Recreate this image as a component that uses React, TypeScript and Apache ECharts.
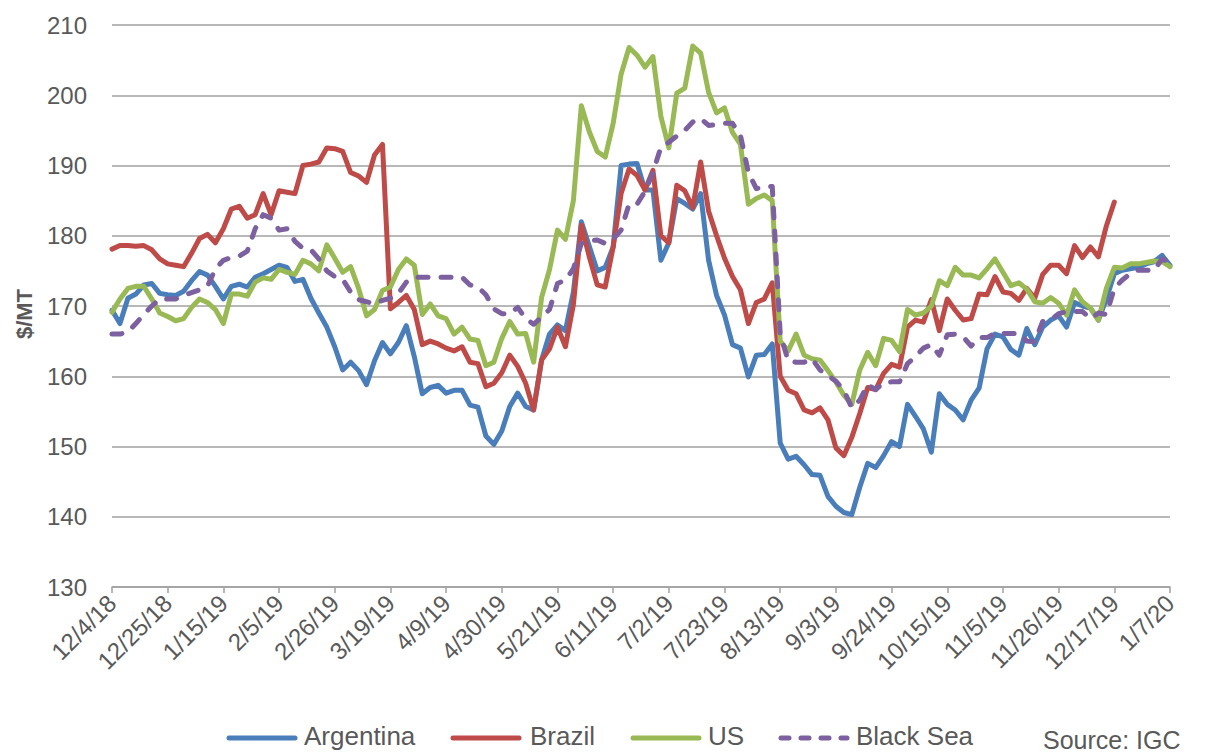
import React, { useEffect, useRef } from "react";
import * as echarts from "echarts";

// Sampling grid: every 3 days starting 12/4/18 (day 0) to 1/7/20 (day 399)
const STEP_DAYS = 3;
const DAYS: number[] = Array.from({ length: 134 }, (_, i) => i * STEP_DAYS);

const TICK_LABELS = [
  "12/4/18", "12/25/18", "1/15/19", "2/5/19", "2/26/19", "3/19/19", "4/9/19",
  "4/30/19", "5/21/19", "6/11/19", "7/2/19", "7/23/19", "8/13/19", "9/3/19",
  "9/24/19", "10/15/19", "11/5/19", "11/26/19", "12/17/19", "1/7/20",
];

const SERIES_NAMES = ["Argentina", "Brazil", "US", "Black Sea"];

const ARGENTINA = [
  169.4, 167.5, 171.1, 171.7, 173, 173.2, 171.8, 171.6, 171.5, 172.1, 173.6, 174.9, 174.4, 172.8, 171, 172.8, 173.1, 172.7, 174.1, 174.6, 175.2, 175.8,
  175.5, 173.5, 173.8, 171.1, 169, 167, 164.2, 160.9, 162, 160.8, 158.8, 162.2, 164.8, 163.2, 164.8, 167.2, 162.8, 157.5, 158.4, 158.7, 157.6, 158,
  158, 155.9, 155.6, 151.5, 150.3, 152.2, 155.7, 157.6, 155.7, 155.2, 162.3, 166, 167.3, 166.5, 172, 182, 178.5, 175, 175.5, 178.4, 190, 190.2,
  190.3, 186.5, 186.5, 176.5, 179, 185.3, 184.6, 183.8, 186, 176.5, 171.5, 168.7, 164.5, 164, 159.9, 163, 163.1, 164.6, 150.5, 148.2, 148.6, 147.4,
  146, 145.9, 142.9, 141.5, 140.6, 140.3, 144.2, 147.6, 147, 148.7, 150.7, 150, 156, 154.3, 152.5, 149.2, 157.5, 156, 155.2, 153.8, 156.6, 158.3,
  163.9, 166, 165.6, 163.8, 163, 166.8, 164.5, 167, 168, 168.6, 167, 170.5, 170, 169.7, 168, 171, 174.6, 175.1, 175.3, 175.5, 176, 176.3, 177.2, 175.8,
];

const BRAZIL = [
  178.1, 178.6, 178.6, 178.5, 178.6, 178, 176.7, 176, 175.8, 175.6, 177.5, 179.6, 180.2, 179, 181, 183.8, 184.2, 182.5, 183, 186, 183, 186.4,
  186.2, 186, 190, 190.2, 190.5, 192.5, 192.4, 192, 189, 188.5, 187.6, 191.5, 193, 169.6, 170.5, 171.5, 169.5, 164.5, 165, 164.6, 164, 163.6,
  164.2, 162, 161.8, 158.5, 159, 160.5, 163, 161.4, 159, 155.2, 162.3, 163.9, 167, 164.2, 170.2, 181.5, 177, 173, 172.7, 178.4, 186, 189.5,
  188.6, 186.5, 189.3, 180, 179, 187.2, 186.4, 184, 190.5, 183.5, 180, 176.8, 174.2, 172.3, 167.5, 170.5, 171, 173.3, 160, 158, 157.5, 155.2,
  154.8, 155.5, 153.8, 149.8, 148.7, 151.3, 154.7, 158.4, 158.1, 160.4, 161.7, 161.3, 167, 168, 167.7, 170.9, 166.5, 171, 169.4, 168, 168.2, 171.7,
  171.6, 174.2, 172, 171.8, 170.8, 172.5, 171.1, 174.5, 175.8, 175.8, 174.6, 178.6, 176.9, 178.4, 177, 181.4, 184.8, null, null, null, null, null, null, null,
];

const US = [
  169.1, 171, 172.5, 172.8, 172.8, 171, 169, 168.5, 167.9, 168.2, 169.8, 171, 170.5, 169.5, 167.5, 171.7, 171.7, 171.4, 173.4, 174, 173.8, 175.2,
  174.8, 174.5, 176.5, 176, 175, 178.7, 176.8, 174.8, 175.6, 172.5, 168.6, 169.5, 172.2, 172.7, 175.2, 176.7, 175.8, 168.8, 170.3, 168.6, 168.2, 166,
  167, 165.3, 165.1, 161.5, 162, 165.4, 167.8, 166, 166.1, 162, 171.2, 175.2, 180.8, 179.5, 185, 198.5, 194.8, 192, 191.2, 196, 203, 206.8,
  205.7, 204, 205.5, 197, 192.5, 200.3, 201, 207, 206, 200.4, 197.5, 198.2, 194.7, 193, 184.5, 185.3, 185.8, 185, 165, 163.6, 166, 163,
  162.5, 162.3, 160.8, 159.2, 157.3, 156, 160.9, 163.4, 161.5, 165.4, 165.1, 163.5, 169.5, 168.7, 169, 170, 173.6, 172.9, 175.5, 174.4, 174.4, 174,
  175.3, 176.7, 174.8, 172.9, 173.3, 172.4, 170.6, 170.4, 171.2, 170.4, 168.7, 172.3, 170.6, 169.7, 168, 172.5, 175.5, 175.4, 176, 176, 176.2, 176.4, 176.3, 175.6,
];

const BLACK_SEA = [
  166, 166, 166.3, 167.5, 168.8, 170, 171, 171, 171, 171.5, 171.9, 172.3, 172.8, 175.3, 176.5, 176.9, 177.1, 177.8, 181, 183, 182.5, 180.8,
  181, 179.2, 178.2, 178, 176.7, 175, 174.2, 173.8, 172, 170.9, 170.6, 170.3, 170.8, 171.1, 171.8, 173.4, 174.1, 174.1, 174.1, 174.1, 174.1, 174.1,
  174.1, 173, 172.7, 171.6, 169.6, 168.9, 168.9, 169.8, 168.2, 167.4, 168.4, 169.5, 173.2, 173.7, 175.3, 178.9, 179.3, 179.4, 178.9, 179.5, 180.8, 184.5,
  184.5, 186.3, 189, 192.6, 193.3, 194.2, 195, 196.2, 196.7, 195.7, 195.8, 196, 196, 194.3, 189, 186.7, 187, 187, 166, 162.2, 162, 162,
  162.5, 160.9, 160.1, 159.3, 158, 155.5, 156.6, 158.8, 158.1, 159.1, 159.2, 159.2, 161.8, 162.8, 164, 164.5, 163, 165.9, 166, 165.6, 164.3, 165.5,
  165.5, 166.1, 166.1, 166.1, 166.1, 165, 164.9, 167.8, 168, 168.9, 169.2, 169.2, 169.2, 168.2, 169, 168.8, 172.5, 173.7, 174.6, 175.1, 175.1, 175.1, 176.7, 176.2,
];

const COLORS = ["#4A7EBB", "#BE4B48", "#98B954", "#7D60A0"];
const FONT = "'Liberation Sans', Arial, sans-serif";
const TEXT_COLOR = "#595959";
const GRID_COLOR = "#a0a0a0";
const LINE_WIDTH = 5;
const DASH = [10, 13];

// legend layout (icon start x, text x)
const LEGEND_ICON_X = [229, 453, 633, 781];
const LEGEND_TEXT_X = [304, 530, 708, 856];
const LEGEND_Y = 738;

function pairs(values: (number | null)[]) {
  return DAYS.map((d, i) => [d, values[i]]);
}

export default function App() {
  const ref = useRef<HTMLDivElement>(null);

  useEffect(() => {
    if (!ref.current) return;
    const chart = echarts.init(ref.current, null, { renderer: "svg" });
    const allValues = [ARGENTINA, BRAZIL, US, BLACK_SEA];

    const legendGraphics: any[] = [];
    SERIES_NAMES.forEach((name, i) => {
      legendGraphics.push({
        type: "line",
        shape: { x1: LEGEND_ICON_X[i], y1: LEGEND_Y, x2: LEGEND_ICON_X[i] + 66, y2: LEGEND_Y },
        style: {
          stroke: COLORS[i],
          lineWidth: LINE_WIDTH,
          lineCap: "round",
          lineDash: i === 3 ? [8, 12] : null,
        },
      });
      legendGraphics.push({
        type: "text",
        x: LEGEND_TEXT_X[i],
        y: LEGEND_Y - 2,
        style: {
          text: name,
          fontSize: 26,
          fill: TEXT_COLOR,
          fontFamily: FONT,
          verticalAlign: "middle",
        },
      });
    });

    chart.setOption({
      animation: false,
      textStyle: { fontFamily: FONT },
      grid: { left: 112, right: 36, top: 25, bottom: 166, containLabel: false },
      xAxis: {
        type: "value",
        min: 0,
        max: 399,
        interval: 21,
        axisLine: { show: true, lineStyle: { color: GRID_COLOR, width: 1.5 } },
        axisTick: { show: true, length: 6, lineStyle: { color: GRID_COLOR, width: 1.5 } },
        splitLine: { show: false },
        axisLabel: {
          rotate: 45,
          margin: 12,
          fontSize: 24,
          color: TEXT_COLOR,
          fontFamily: FONT,
          showMinLabel: true,
          showMaxLabel: true,
          formatter: (v: number) => TICK_LABELS[Math.round(v / 21)] ?? "",
        },
      },
      yAxis: {
        type: "value",
        min: 130,
        max: 210,
        interval: 10,
        axisLine: { show: false },
        axisTick: { show: false },
        splitLine: { show: true, lineStyle: { color: GRID_COLOR, width: 1.5 } },
        axisLabel: { fontSize: 24, color: TEXT_COLOR, margin: 25, fontFamily: FONT },
      },
      graphic: [
        {
          type: "text",
          x: 24,
          y: 314,
          rotation: Math.PI / 2,
          style: {
            text: "$/MT",
            fontSize: 22,
            fontWeight: "bold",
            fill: TEXT_COLOR,
            fontFamily: FONT,
            align: "center",
            verticalAlign: "middle",
          },
        },
        {
          type: "text",
          left: 1043,
          top: 727,
          style: {
            text: "Source: IGC",
            fontSize: 25,
            fill: TEXT_COLOR,
            fontFamily: FONT,
          },
        },
        ...legendGraphics,
      ],
      series: SERIES_NAMES.map((name, i) => ({
        name,
        type: "line",
        data: pairs(allValues[i]),
        symbol: "none",
        showSymbol: false,
        connectNulls: false,
        color: COLORS[i],
        lineStyle: {
          color: COLORS[i],
          width: LINE_WIDTH,
          type: i === 3 ? DASH : "solid",
          cap: "round",
          join: "round",
        },
      })),
    });
    return () => chart.dispose();
  }, []);

  return (
    <div
      ref={ref}
      style={{ position: "absolute", left: 0, top: 0, width: 1206, height: 753 }}
    />
  );
}
